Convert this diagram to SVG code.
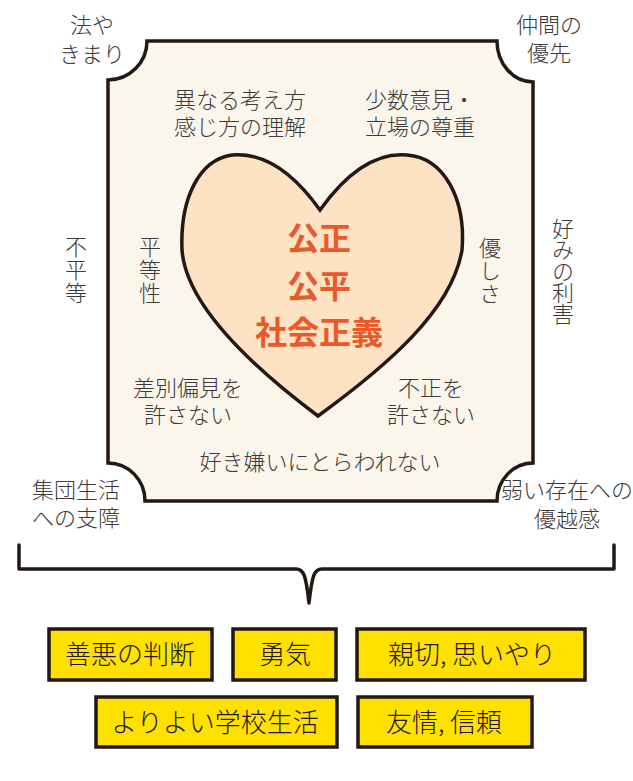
<svg xmlns="http://www.w3.org/2000/svg" width="633" height="781" viewBox="0 0 633 781">
<style>
.t{font-family:"Liberation Sans","Noto Sans CJK JP",sans-serif;font-size:22px;font-weight:300;fill:#3e3a39;text-anchor:middle}
.v{font-family:"Noto Sans CJK JP",sans-serif;writing-mode:vertical-rl;letter-spacing:1px}
.h{font-family:"Noto Sans CJK JP","Noto Sans",sans-serif;font-size:32px;font-weight:bold;fill:#e9592a;text-anchor:middle}
.b{font-family:"Noto Sans CJK JP","Noto Sans",sans-serif;font-size:26px;font-weight:300;fill:#231815;text-anchor:middle}
.box{fill:#ffe100;stroke:#231815;stroke-width:3.5}
.ln{fill:none;stroke:#231815;stroke-width:3.5;stroke-linejoin:round;stroke-linecap:round}
</style>
<rect width="633" height="781" fill="#ffffff"/>
<g id="panel">
<path d="M147,41 L497,41 A36,41 0 0 0 533,82 L533,463 A36,38 0 0 0 497,501 L145,501 A37,38 0 0 0 108,463 L108,80 A39,39 0 0 0 147,41 Z" fill="#fbf6ec" stroke="#231815" stroke-width="3.5"/>
</g>
<g id="heart">
<path d="M320,210 C295,175 265,152 232,155 C198,160 180,200 182,250 C186,305 250,365 318,416 C388,365 452,310 462,250 C466,200 445,158 407,155 C373,152 345,175 320,210 Z" fill="#fde3c4" stroke="#231815" stroke-width="3.5" stroke-linejoin="miter"/>
<text class="h"><tspan x="319" y="250">公正</tspan><tspan x="319" y="298">公平</tspan><tspan x="319" y="344">社会正義</tspan></text>
</g>
<g id="labels-inner">
<text class="t"><tspan x="240" y="108">異なる考え方</tspan><tspan x="240" y="135">感じ方の理解</tspan></text>
<text class="t"><tspan x="420" y="108">少数意見・</tspan><tspan x="420" y="135">立場の尊重</tspan></text>
<text class="t v" x="150" y="270">平等性</text>
<text class="t v" x="490" y="271">優しさ</text>
<text class="t"><tspan x="188" y="396">差別偏見を</tspan><tspan x="188" y="423">許さない</tspan></text>
<text class="t"><tspan x="431" y="396">不正を</tspan><tspan x="431" y="423">許さない</tspan></text>
<text class="t" x="320" y="470">好き嫌いにとらわれない</text>
</g>
<g id="labels-outer">
<text class="t"><tspan x="92" y="33">法や</tspan><tspan x="92" y="62">きまり</tspan></text>
<text class="t"><tspan x="549" y="33">仲間の</tspan><tspan x="549" y="61">優先</tspan></text>
<text class="t v" x="76" y="270">不平等</text>
<text class="t v" x="563" y="271" style="letter-spacing:-0.6px">好みの利害</text>
<text class="t"><tspan x="76" y="498">集団生活</tspan><tspan x="76" y="526">への支障</tspan></text>
<text class="t"><tspan x="567" y="498">弱い存在への</tspan><tspan x="567" y="527">優越感</tspan></text>
</g>
<g id="connectors">
<path class="ln" d="M19,545 L19,569 L296,569 C304,569 306,576 309,603 C312,576 314,569 322,569 L614,569 L614,545"/>
</g>
<g id="box-zenaku"><rect class="box" x="49" y="629" width="163" height="51"/><text class="b" x="130" y="664">善悪の判断</text></g>
<g id="box-yuki"><rect class="box" x="233" y="629" width="103" height="51"/><text class="b" x="285" y="664">勇気</text></g>
<g id="box-shinsetsu"><rect class="box" x="357" y="629" width="228" height="51"/><text class="b" x="472" y="664">親切, 思いやり</text></g>
<g id="box-gakko"><rect class="box" x="96" y="697" width="241" height="50"/><text class="b" x="215" y="732">よりよい学校生活</text></g>
<g id="box-yujo"><rect class="box" x="358" y="697" width="174" height="50"/><text class="b" x="444" y="732">友情, 信頼</text></g>
</svg>
